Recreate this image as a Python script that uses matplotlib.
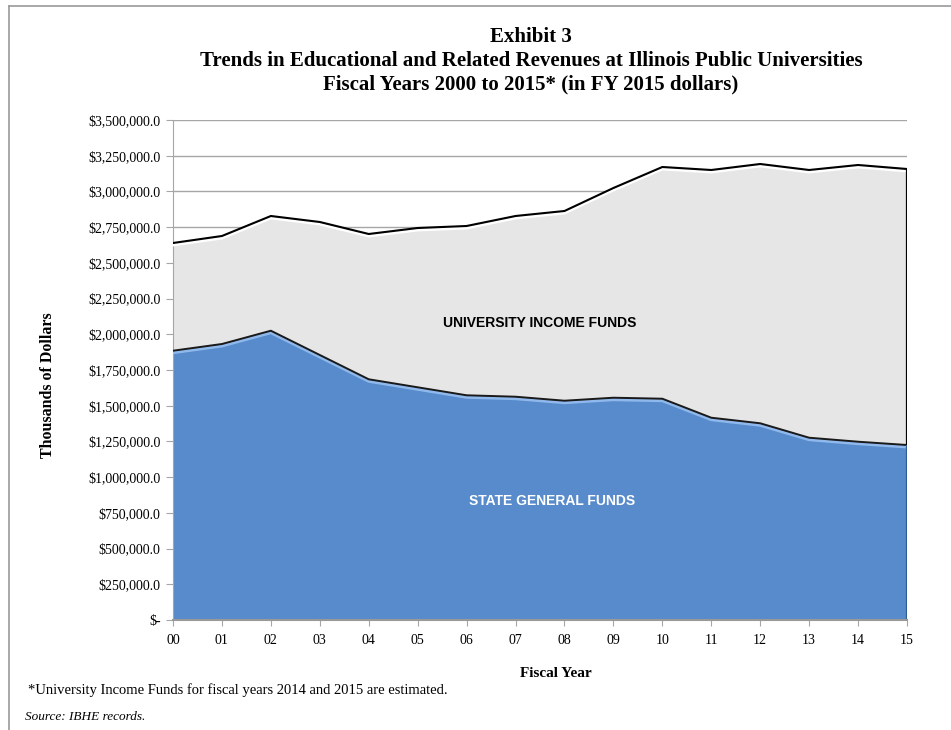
import matplotlib
matplotlib.use("Agg")
import matplotlib.pyplot as plt
import matplotlib.patheffects as pe
from matplotlib.lines import Line2D
from matplotlib.ticker import FuncFormatter, MultipleLocator
import numpy as np

# Fiscal years 2000-2015 (labels shown as two digits)
years = list(range(2000, 2016))
year_labels = ["00", "01", "02", "03", "04", "05", "06", "07",
               "08", "09", "10", "11", "12", "13", "14", "15"]

# Revenues in thousands of FY 2015 dollars
state_general_funds = [1885000, 1932000, 2025000, 1855000, 1685000, 1629000,
                       1573000, 1563000, 1535000, 1556000, 1549000, 1416000,
                       1377000, 1276000, 1248000, 1225000]
university_income_funds = [754000, 756000, 803000, 931000, 1017000, 1115000,
                           1185000, 1265000, 1328000, 1468000, 1622000, 1734000,
                           1815000, 1874000, 1937000, 1932000]

BLUE = "#578BCB"
GRAY_FILL = "#E6E6E6"
GRID = "#A6A6A6"
SERIF = ["Liberation Serif", "DejaVu Serif"]
SANS = ["Liberation Sans", "DejaVu Sans"]

plt.rcParams["font.family"] = SERIF

fig = plt.figure(figsize=(9.51, 7.30), dpi=100)
ax = fig.add_axes([173 / 951, 1 - 620 / 730, 734 / 951, 500 / 730])

x = np.arange(len(years))
state = np.array(state_general_funds, dtype=float)
total = state + np.array(university_income_funds, dtype=float)

ax.stackplot(x, state, university_income_funds, colors=[BLUE, GRAY_FILL],
             linewidth=0, zorder=2)

# Bevelled boundary lines on top of each band
ax.plot(x, total, color="black", lw=1.5, zorder=4,
        path_effects=[pe.SimpleLineShadow(offset=(0, -1.4), shadow_color="white",
                                          alpha=1.0, rho=1.0, linewidth=2.2),
                      pe.Normal()])
ax.plot(x, state, color="#1a1a1a", lw=1.4, zorder=4,
        path_effects=[pe.SimpleLineShadow(offset=(0, -1.4), shadow_color="#8FB8EC",
                                          alpha=1.0, rho=1.0, linewidth=2.2),
                      pe.Normal()])
ax.vlines(x[-1], state[-1], total[-1], color="black", lw=1.6, zorder=4)
ax.vlines(x[-1], 0, state[-1], color="#2F5B93", lw=1.6, zorder=4)

ax.set_xlim(x[0], x[-1])
ax.set_ylim(0, 3500000)
ax.yaxis.set_major_locator(MultipleLocator(250000))
ax.set_xticks(x)
ax.set_xticklabels(year_labels)


def dollar_fmt(v, _pos):
    if abs(v) < 1:
        return "$-"
    return "${:,.1f}".format(v)


ax.yaxis.set_major_formatter(FuncFormatter(dollar_fmt))
ax.grid(axis="y", color=GRID, lw=1.0, zorder=1)
ax.set_axisbelow(True)

for side in ("top", "right"):
    ax.spines[side].set_visible(False)
ax.spines["left"].set_color(GRID)
ax.spines["bottom"].set_color("#999999")
ax.spines["bottom"].set_linewidth(1.5)
ax.spines["bottom"].set_zorder(5)

ax.tick_params(axis="y", length=5, color=GRID, pad=4, labelsize=10)
ax.tick_params(axis="x", length=4, color=GRID, pad=6, labelsize=10)

ax.set_ylabel("Thousands of Dollars", fontsize=11.5, fontweight="bold")
ax.yaxis.set_label_coords((56 - 173) / 734, (620 - 385) / 500)
ax.set_xlabel("Fiscal Year", fontsize=11, fontweight="bold")
ax.xaxis.set_label_coords((556 - 173) / 734, (620 - 667) / 500)

# Band labels
ax.text(7.5, 2079000, "UNIVERSITY INCOME FUNDS", ha="center", va="center",
        family=SANS, fontweight="bold", fontsize=10, color="black", zorder=6)
ax.text(7.75, 833000, "STATE GENERAL FUNDS", ha="center", va="center",
        family=SANS, fontweight="bold", fontsize=10, color="white", zorder=6)

# Title block
title_lines = ["Exhibit 3",
               "Trends in Educational and Related Revenues at Illinois Public Universities",
               "Fiscal Years 2000 to 2015* (in FY 2015 dollars)"]
for i, line in enumerate(title_lines):
    fig.text(531 / 951, 1 - (37 + 23.5 * i) / 730, line, ha="center", va="center",
             fontsize=15, fontweight="bold")

fig.text(28 / 951, 1 - 690 / 730,
         "*University Income Funds for fiscal years 2014 and 2015 are estimated.",
         ha="left", va="center", fontsize=10.5)
fig.text(25 / 951, 1 - 717 / 730, "Source: IBHE records.", ha="left", va="center",
         fontsize=9.5, style="italic")

# Page frame lines
fig.add_artist(Line2D([9 / 951, 1.0], [1 - 6 / 730, 1 - 6 / 730],
                      transform=fig.transFigure, color="#999999", lw=1.2))
fig.add_artist(Line2D([9 / 951, 9 / 951], [0.0, 1 - 6 / 730],
                      transform=fig.transFigure, color="#999999", lw=1.2))

fig.savefig("out.png", dpi=100)
